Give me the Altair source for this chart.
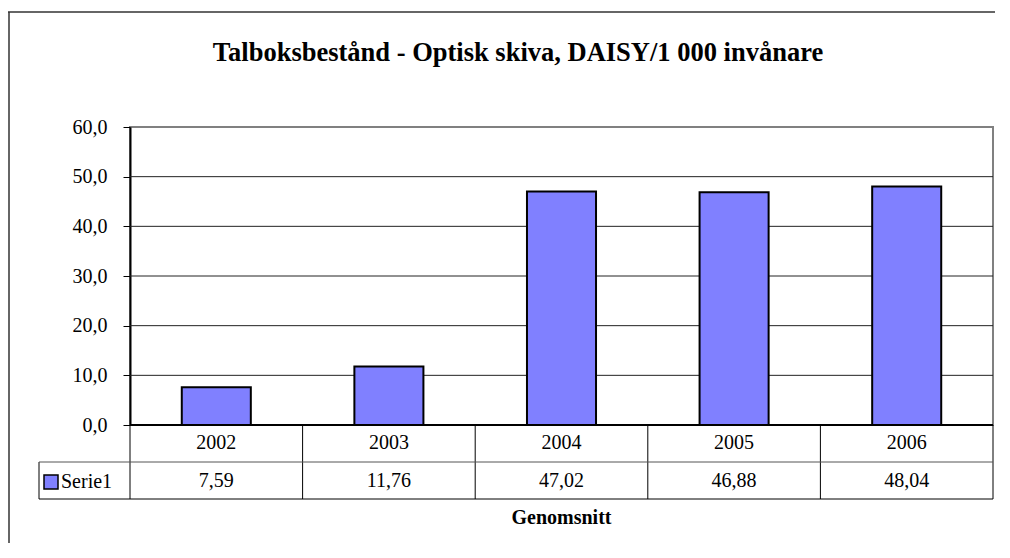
import altair as alt
import pandas as pd

years = ["2002", "2003", "2004", "2005", "2006"]
values = [7.59, 11.76, 47.02, 46.88, 48.04]
series_name = "Serie1"
y_ticks = [0, 10, 20, 30, 40, 50, 60]
title_text = "Talboksbestånd - Optisk skiva, DAISY/1 000 invånare"
x_title = "Genomsnitt"

W, H = 863, 298
FONT = "'Liberation Serif', 'Times New Roman', 'DejaVu Serif', serif"
BAR = "#8080FF"

df = pd.DataFrame({"year": years, "value": values})
one = pd.DataFrame({"k": [0]})
xscale = alt.Scale(domain=years, paddingInner=0, paddingOuter=0)
yscale = alt.Scale(domain=[0, 60], nice=False)
X = alt.X("year:N", scale=xscale, axis=None, sort=years)

yaxis = alt.Axis(
    values=y_ticks,
    labelExpr="replace(format(datum.value, '.1f'), '.', ',')",
    grid=False,
    domainColor="black",
    domainWidth=2,
    tickColor="black",
    tickSize=7,
    tickWidth=1,
    labelFont=FONT,
    labelFontSize=20,
    labelColor="black",
    labelPadding=16,
    title=None,
)

grid = alt.Chart(pd.DataFrame({"v": y_ticks[1:-1]})).mark_rule(color="#222222", strokeWidth=1).encode(
    y=alt.Y("v:Q", scale=yscale, axis=yaxis), x=alt.value(0), x2=alt.value(W)
)

bars = alt.Chart(df).mark_bar(
    width=alt.RelativeBandSize(0.4), color=BAR, stroke="black", strokeWidth=2
).encode(
    x=X,
    y=alt.Y("value:Q", scale=yscale, axis=yaxis),
)

# data table grid
vlines = alt.Chart(df).mark_rule(color="black", strokeWidth=1).encode(
    x=alt.X("year:N", scale=xscale, axis=None, sort=years, bandPosition=0),
    y=alt.value(H), y2=alt.value(H + 74),
)
rline = alt.Chart(one).mark_rule(color="black", strokeWidth=1).encode(
    x=alt.value(W), y=alt.value(H), y2=alt.value(H + 74)
)
lline = alt.Chart(one).mark_rule(color="black", strokeWidth=1).encode(
    x=alt.value(-91), y=alt.value(H + 37), y2=alt.value(H + 74)
)
axisline = alt.Chart(one).mark_rule(color="black", strokeWidth=2).encode(
    x=alt.value(0), x2=alt.value(W), y=alt.value(H)
)
midline = alt.Chart(one).mark_rule(color="#555555", strokeWidth=1).encode(
    x=alt.value(-91), x2=alt.value(W), y=alt.value(H + 37)
)
botline = alt.Chart(one).mark_rule(color="black", strokeWidth=1).encode(
    x=alt.value(-91), x2=alt.value(W), y=alt.value(H + 74)
)

year_txt = alt.Chart(df).mark_text(font=FONT, fontSize=20, color="black", baseline="middle").encode(
    x=X, y=alt.value(H + 18), text="year:N"
)
val_txt = alt.Chart(df).transform_calculate(
    lbl="replace(format(datum.value, '.2f'), '.', ',')"
).mark_text(font=FONT, fontSize=20, color="black", baseline="middle").encode(
    x=X, y=alt.value(H + 56), text="lbl:N"
)

leg = pd.DataFrame({"s": [series_name]})
leg_box = alt.Chart(leg).mark_rect(fill=BAR, stroke="black", strokeWidth=1.5).encode(
    x=alt.value(-86), x2=alt.value(-72), y=alt.value(H + 50), y2=alt.value(H + 64)
)
leg_txt = alt.Chart(leg).mark_text(font=FONT, fontSize=20, color="black", align="left", baseline="middle").encode(
    x=alt.value(-69), y=alt.value(H + 57), text="s:N"
)

ttl = alt.Chart(pd.DataFrame({"t": [title_text]})).mark_text(
    font=FONT, fontSize=26.5, fontWeight="bold", color="black", baseline="middle"
).encode(x=alt.value(388), y=alt.value(-74), text="t:N")

xttl = alt.Chart(pd.DataFrame({"t": [x_title]})).mark_text(
    font=FONT, fontSize=20, fontWeight="bold", color="black", baseline="middle"
).encode(x=alt.value(W / 2), y=alt.value(H + 93), text="t:N")

border_top = alt.Chart(one).mark_rule(color="#333333", strokeWidth=1.5).encode(
    x=alt.value(-122), x2=alt.value(W + 2), y=alt.value(-115)
)
border_left = alt.Chart(one).mark_rule(color="#333333", strokeWidth=1.5).encode(
    x=alt.value(-121), y=alt.value(-115), y2=alt.value(H + 118)
)

chart = alt.layer(
    grid, bars, vlines, rline, lline, axisline, midline, botline,
    year_txt, val_txt, leg_box, leg_txt, ttl, xttl, border_top, border_left
).properties(
    width=W,
    height=H,
    autosize=alt.AutoSizeParams(type="none"),
    padding={"left": 122, "top": 119, "right": 5, "bottom": 118},
    background="white",
).configure_view(stroke="#808080", strokeWidth=2)

chart.save("out.html", embed_options={"renderer": "svg", "actions": False})
